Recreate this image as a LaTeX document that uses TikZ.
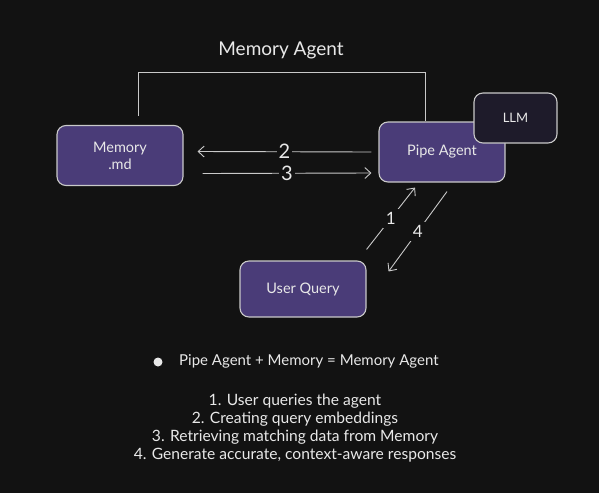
\documentclass[tikz,border=0pt]{standalone}
\usepackage{fontspec}
\setmainfont{Lato}
\usetikzlibrary{arrows.meta,calc}
\definecolor{bg}{HTML}{121212}
\definecolor{boxpurple}{HTML}{4A3C78}
\definecolor{llmfill}{HTML}{1E1B2A}
\definecolor{strokec}{HTML}{C9C9C9}
\definecolor{txt}{HTML}{E8E8E8}
\begin{document}
\begin{tikzpicture}[x=1pt,y=-1pt,
  box/.style={draw=strokec, line width=1.1pt, fill=boxpurple, rounded corners=9pt,
    text=txt, align=center, font=\fontsize{14.5}{17}\selectfont, inner sep=0pt},
  plainline/.style={draw=strokec, line width=0.9pt},
  arr/.style={draw=strokec, line width=0.9pt, -{Straight Barb[length=6pt,width=11pt]}},
  numlbl/.style={fill=bg, text=txt, inner sep=2pt, font=\fontsize{20}{22}\selectfont},
  numlblsmall/.style={fill=bg, text=txt, inner sep=3pt, font=\fontsize{17}{19}\selectfont},
  plaintext/.style={text=txt, inner sep=0pt, font=\fontsize{15}{18}\selectfont},
]
\fill[bg] (0,0) rectangle (599,493);
\useasboundingbox (0,0) rectangle (599,493);

% nodes
\node[box, minimum width=126pt, minimum height=60pt] (mem) at (120,155.5) {Memory\\.md};
\node[box, minimum width=126pt, minimum height=60pt] (pipe) at (442,152) {Pipe Agent};
\node[box, fill=llmfill, minimum width=83pt, minimum height=50pt, font=\fontsize{13}{15}\selectfont] (llm) at (515.5,118) {LLM};
\node[box, minimum width=126pt, minimum height=56pt] (uq) at (303,289) {User Query};

% title and bracket
\node[text=txt, font=\fontsize{19}{22}\selectfont] (title) at (281,50) {Memory Agent};
\draw[plainline] ($(mem.north)+(18,-9)$) |- ($(pipe.north)+(-17,-49)$) -- ($(pipe.north)+(-17,0)$);

% connectors
\draw[arr] ($(pipe.west)+(-7,0)$) -- node[numlbl]{2} ($(mem.east)+(14,-4)$);
\draw[arr] ($(mem.east)+(19,18)$) -- node[numlbl]{3} ($(pipe.west)+(-7,21)$);
\draw[arr] ($(uq.north east)+(0,-11)$) -- node[numlblsmall]{1} ($(pipe.south)+(-27,5)$);
\draw[arr] ($(pipe.south)+(5,9)$) -- node[numlblsmall]{4} ($(uq.north east)+(22,11)$);

% summary
\node[circle, fill=txt, minimum size=9pt, inner sep=0pt] (bullet) at (158,362) {};
\node[plaintext, anchor=west] (summary) at (179,361) {Pipe Agent + Memory = Memory Agent};
\node[plaintext, align=center, font=\fontsize{15.6}{18}\selectfont] (steps) at (295,428)
  {1. User queries the agent\\2. Creating query embeddings\\3. Retrieving matching data from Memory\\4. Generate accurate, context-aware responses};
\end{tikzpicture}
\end{document}
